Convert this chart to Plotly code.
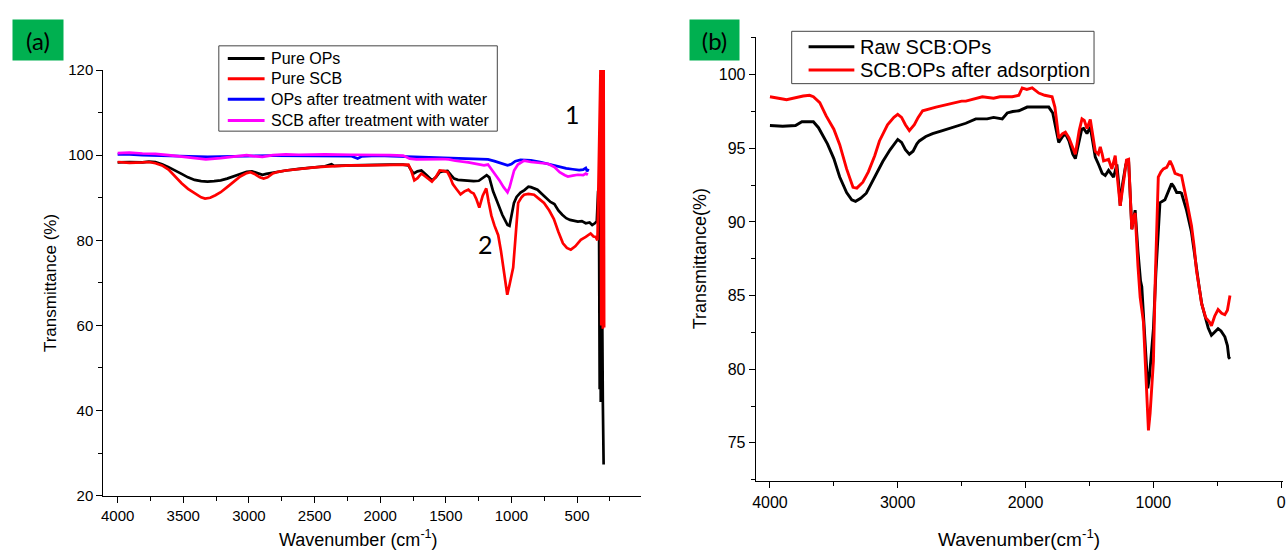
import plotly.graph_objects as go

W, H = 1286, 557

# ---------------- Panel (a) data ----------------
ops_wn = [4000, 3910, 3811, 3762, 3712, 3662, 3612, 3563, 3513, 3464, 3414, 3364, 3315, 3265, 3215, 3166,
          3116, 3066, 3017, 2977, 2937, 2897, 2868, 2818, 2719, 2619, 2520, 2421, 2371, 2351, 2222, 2123,
          2023, 1924, 1825, 1785, 1765, 1745, 1716, 1686, 1656, 1626, 1606, 1576, 1547, 1527, 1487, 1457,
          1437, 1408, 1378, 1328, 1288, 1249, 1219, 1189, 1169, 1140, 1110, 1090, 1070, 1050, 1030, 1015,
          1000, 981, 961, 931, 901, 871, 852, 832, 802, 772, 732, 703, 673, 643, 613, 583, 554, 524, 494,
          464, 434, 405, 385, 365, 350, 340, 334, 328, 324, 320, 316, 312, 308, 304, 298]
ops_t = [98.3, 98.4, 98.3, 98.5, 98.4, 97.9, 97.2, 96.5, 95.6, 94.8, 94.2, 93.9, 93.8, 93.9, 94.1, 94.5,
         95.0, 95.6, 96.1, 96.2, 95.8, 95.4, 95.6, 95.9, 96.4, 96.8, 97.1, 97.4, 97.9, 97.5, 97.6, 97.7,
         97.8, 97.8, 97.8, 97.6, 96.5, 95.7, 96.2, 96.4, 95.6, 94.6, 94.1, 94.8, 96.0, 96.2, 96.3, 95.2,
         94.5, 94.2, 94.1, 94.0, 93.9, 94.0, 94.6, 95.3, 94.8, 91.5, 89.2, 87.5, 86.0, 84.8, 83.6, 83.4,
         85.5, 88.8, 90.2, 91.2, 91.8, 92.6, 92.5, 92.2, 91.9, 91.0, 89.9, 89.0, 88.5, 87.0, 86.0, 85.2,
         84.8, 84.6, 84.4, 84.5, 84.0, 84.2, 83.6, 84.0, 84.5, 91.5, 92.0, 45.0, 88.0, 42.0, 80.0, 45.0,
         60.0, 42.0, 27.3]

scb_wn = [4000, 3910, 3811, 3762, 3712, 3662, 3612, 3563, 3513, 3464, 3414, 3364, 3334, 3295, 3255, 3215,
          3166, 3116, 3066, 3017, 2987, 2957, 2917, 2888, 2858, 2818, 2778, 2719, 2619, 2520, 2421, 2321,
          2222, 2123, 2023, 1924, 1825, 1785, 1765, 1740, 1716, 1686, 1656, 1626, 1606, 1576, 1547, 1517,
          1487, 1467, 1447, 1418, 1388, 1358, 1328, 1308, 1288, 1269, 1245, 1219, 1192, 1174, 1153, 1130,
          1101, 1080, 1063, 1045, 1032, 1015, 1000, 987, 971, 949, 921, 904, 871, 828, 792, 752, 712, 677,
          643, 608, 578, 548, 514, 472, 434, 397, 375, 359, 345, 322, 316, 310, 304, 298, 294]
scb_t = [98.4, 98.2, 98.3, 98.4, 98.1, 97.6, 96.6, 95.0, 93.4, 92.1, 91.0, 90.1, 89.8, 90.0, 90.6, 91.3,
         92.5, 93.8, 95.0, 95.8, 96.0, 95.6, 94.8, 94.5, 94.8, 95.7, 96.1, 96.4, 96.8, 97.1, 97.3, 97.5,
         97.6, 97.6, 97.7, 97.8, 97.9, 97.8, 96.5, 94.1, 94.6, 95.7, 95.0, 94.2, 93.8, 94.9, 96.4, 96.3,
         96.0, 94.8, 93.2, 92.0, 90.8, 91.5, 91.9, 91.3, 91.0, 89.8, 87.7, 90.5, 92.2, 89.0, 85.8, 83.5,
         81.2, 77.5, 73.6, 69.5, 67.2, 69.5, 72.0, 73.6, 80.0, 88.8, 90.2, 90.7, 90.9, 90.7, 89.8, 88.8,
         87.0, 85.0, 82.0, 79.3, 78.2, 77.8, 78.6, 80.1, 80.8, 81.6, 80.9, 80.8, 80.0, 120.0, 60.0, 120.0,
         59.2, 120.0, 59.5]

opsw_wn = [4000, 3910, 3811, 3712, 3612, 3513, 3414, 3315, 3215, 3116, 3017, 2818, 2619, 2421, 2222, 2172,
           2143, 2023, 1924, 1825, 1725, 1626, 1527, 1428, 1328, 1229, 1179, 1130, 1080, 1030, 1000, 971,
           931, 904, 852, 782, 732, 683, 633, 583, 534, 484, 454, 434, 424, 414]
opsw_t = [100.2, 100.2, 100.0, 99.9, 99.8, 99.7, 99.6, 99.6, 99.7, 99.8, 99.8, 99.9, 99.9, 99.9, 99.8, 99.2,
          99.7, 99.9, 99.8, 99.7, 99.6, 99.5, 99.4, 99.3, 99.2, 99.1, 99.0, 98.6, 98.1, 97.6, 97.9, 98.6,
          98.9, 98.9, 98.8, 98.4, 98.0, 97.6, 97.2, 96.9, 96.7, 96.5, 96.6, 97.0, 96.2, 96.8]

scbw_wn = [4000, 3910, 3811, 3712, 3612, 3513, 3414, 3328, 3215, 3116, 3017, 2967, 2897, 2818, 2719, 2619,
           2421, 2222, 2023, 1924, 1825, 1775, 1725, 1626, 1527, 1477, 1428, 1328, 1279, 1253, 1209, 1179,
           1149, 1130, 1090, 1060, 1040, 1030, 1015, 990, 980, 951, 904, 852, 792, 722, 673, 633, 593, 570,
           534, 494, 454, 434, 418]
scbw_t = [100.5, 100.6, 100.4, 100.3, 100.0, 99.6, 99.2, 99.0, 99.3, 99.6, 100.0, 99.8, 99.6, 100.0, 100.2,
          100.1, 100.2, 100.1, 100.1, 100.0, 99.9, 99.2, 99.0, 99.1, 99.1, 99.0, 98.7, 98.3, 98.0, 98.0,
          97.6, 97.8, 96.6, 95.7, 94.0, 92.5, 91.5, 91.3, 92.4, 95.3, 96.4, 97.8, 98.7, 98.4, 98.2, 98.0,
          97.2, 96.0, 95.3, 95.0, 95.2, 95.4, 95.3, 95.7, 95.4]

# ---------------- Panel (b) data ----------------
raw_wn = [4000, 3900, 3800, 3750, 3700, 3660, 3620, 3580, 3550, 3500, 3454, 3400, 3360, 3330, 3290, 3246,
          3200, 3150, 3117, 3060, 3020, 3000, 2970, 2940, 2909, 2880, 2850, 2831, 2780, 2727, 2650, 2550,
          2467, 2389, 2300, 2250, 2182, 2143, 2100, 2052, 1987, 1900, 1850, 1818, 1787, 1765, 1740, 1710,
          1688, 1660, 1630, 1610, 1580, 1560, 1545, 1519, 1493, 1475, 1454, 1428, 1400, 1376, 1350, 1311,
          1285, 1270, 1259, 1240, 1215, 1193, 1180, 1168, 1155, 1142, 1120, 1100, 1090, 1075, 1060, 1043,
          1030, 1015, 999, 980, 960, 948, 909, 880, 857, 840, 817, 790, 779, 740, 701, 680, 662, 640, 620,
          597, 570, 545, 520, 493, 470, 440, 420, 409, 400]
raw_t = [96.55, 96.5, 96.55, 96.8, 96.8, 96.8, 96.4, 95.8, 95.3, 94.3, 93.05, 92.0, 91.5, 91.4, 91.6, 91.95,
         92.7, 93.6, 94.1, 94.9, 95.4, 95.6, 95.4, 94.9, 94.6, 94.8, 95.3, 95.5, 95.8, 96.0, 96.2, 96.5,
         96.7, 97.0, 97.0, 97.1, 97.0, 97.4, 97.5, 97.55, 97.8, 97.8, 97.8, 97.8, 97.4, 96.5, 95.4, 95.8,
         96.0, 95.5, 94.6, 94.3, 95.6, 96.3, 96.35, 96.0, 96.45, 95.6, 94.4, 93.9, 93.3, 93.15, 93.5, 93.05,
         93.9, 92.5, 91.1, 92.6, 93.9, 94.1, 92.0, 89.5, 90.2, 90.8, 88.0, 86.0, 85.6, 83.5, 81.0, 78.7,
         79.5, 81.0, 82.75, 86.5, 90.0, 91.3, 91.5, 92.1, 92.6, 92.4, 92.0, 92.0, 91.95, 90.8, 89.3, 88.0,
         86.7, 85.5, 84.4, 83.6, 82.8, 82.3, 82.5, 82.75, 82.6, 82.2, 81.6, 80.8, 80.7]

ads_wn = [4000, 3950, 3900, 3870, 3800, 3740, 3690, 3660, 3610, 3560, 3500, 3454, 3400, 3350, 3320, 3273,
          3230, 3180, 3143, 3080, 3030, 3000, 2970, 2940, 2909, 2870, 2840, 2805, 2700, 2600, 2500, 2467,
          2400, 2338, 2250, 2200, 2104, 2052, 2026, 1990, 1948, 1896, 1850, 1792, 1770, 1740, 1710, 1688,
          1660, 1630, 1610, 1580, 1558, 1540, 1519, 1493, 1475, 1454, 1430, 1415, 1400, 1389, 1350, 1324,
          1298, 1280, 1259, 1230, 1210, 1193, 1180, 1168, 1155, 1142, 1120, 1103, 1077, 1060, 1048, 1038,
          1025, 1015, 999, 985, 972, 961, 940, 921, 895, 869, 850, 830, 800, 779, 740, 701, 680, 662, 640,
          623, 590, 560, 545, 520, 493, 465, 440, 420, 402, 400]
ads_t = [98.5, 98.45, 98.35, 98.3, 98.45, 98.55, 98.6, 98.5, 98.1, 97.2, 96.3, 95.25, 93.6, 92.35, 92.3, 92.7,
         93.4, 94.5, 95.5, 96.6, 97.1, 97.3, 97.1, 96.6, 96.2, 96.6, 97.1, 97.55, 97.8, 98.0, 98.2, 98.2,
         98.35, 98.5, 98.4, 98.5, 98.5, 98.6, 99.1, 99.0, 99.1, 98.75, 98.6, 98.5, 97.8, 95.7, 96.0, 96.1,
         95.7, 95.0, 94.6, 96.2, 97.0, 96.9, 96.35, 96.95, 96.0, 94.8, 94.6, 95.1, 94.6, 94.15, 94.25, 93.6,
         94.5, 93.0, 91.1, 92.9, 94.2, 94.25, 92.2, 89.5, 90.3, 90.6, 87.0, 84.9, 83.2, 80.0, 77.5, 75.85,
         77.0, 78.5, 80.55, 86.0, 90.5, 93.05, 93.4, 93.6, 93.7, 94.15, 93.8, 93.3, 93.2, 93.15, 91.5, 89.75,
         88.3, 86.7, 85.5, 84.5, 83.5, 83.2, 82.95, 83.6, 84.05, 83.8, 83.7, 84.0, 84.9, 85.0]

names_a = ["Pure OPs", "Pure SCB", "OPs after treatment with water", "SCB after treatment with water"]
names_b = ["Raw SCB:OPs", "SCB:OPs after adsorption"]
colors_a = ["#000000", "#FF0000", "#0000FF", "#FF00FF"]
colors_b = ["#000000", "#FF0000"]

FONT = "Arial, Liberation Sans, sans-serif"
LBL = "Lato, Carlito, Calibri, sans-serif"


def px_x(p):
    return p / W


def px_y(p):
    return 1 - p / H


# ---------------- Figure ----------------
fig = go.Figure()
series_a = [(ops_wn, ops_t), (scb_wn, scb_t), (opsw_wn, opsw_t), (scbw_wn, scbw_t)]
for (xv, yv), nm, c in zip(series_a, names_a, colors_a):
    fig.add_trace(go.Scatter(x=xv, y=yv, name=nm, mode="lines", showlegend=False,
                             line=dict(color=c, width=2.7), xaxis="x", yaxis="y"))

series_b = [(raw_wn, raw_t), (ads_wn, ads_t)]
for (xv, yv), nm, c in zip(series_b, names_b, colors_b):
    fig.add_trace(go.Scatter(x=xv, y=yv, name=nm, mode="lines", showlegend=False,
                             line=dict(color=c, width=2.9), xaxis="x2", yaxis="y2"))

axis_common = dict(showline=True, linecolor="black", linewidth=1.4, ticks="outside", ticklen=6,
                   tickwidth=1.2, tickcolor="black", showgrid=False, zeroline=False, mirror=False,
                   color="black", ticklabeloverflow="allow")

fig.update_layout(
    width=W, height=H, autosize=False,
    margin=dict(l=0, r=0, t=0, b=0, pad=0),
    paper_bgcolor="white", plot_bgcolor="white",
    font=dict(family=FONT, color="black"),
    showlegend=False,
    xaxis=dict(domain=[px_x(100), px_x(640)], range=[4108, 17], anchor="y",
               tickmode="linear", tick0=0, dtick=500, tickfont=dict(size=15, family=FONT),
               minor=dict(ticks="outside", ticklen=4, tickwidth=1.2, tickcolor="black", dtick=250, tick0=0),
               **axis_common),
    yaxis=dict(domain=[px_y(502), px_y(63)], range=[20, 120], anchor="x",
               tickmode="linear", tick0=0, dtick=20, tickfont=dict(size=15, family=FONT),
               minor=dict(ticks="outside", ticklen=4, tickwidth=1.2, tickcolor="black", dtick=10, tick0=0),
               **axis_common),
    xaxis2=dict(domain=[px_x(756), 1.0], range=[4110, -15], anchor="y2",
                tickmode="linear", tick0=0, dtick=1000, tickfont=dict(size=16, family=FONT),
                minor=dict(ticks="outside", ticklen=4, tickwidth=1.2, tickcolor="black", dtick=500, tick0=0),
                **axis_common),
    yaxis2=dict(domain=[px_y(487), px_y(29)], range=[72.4, 102.55], anchor="x2",
                tickmode="linear", tick0=0, dtick=5, tickfont=dict(size=16, family=FONT),
                minor=dict(ticks="outside", ticklen=4, tickwidth=1.2, tickcolor="black", dtick=2.5, tick0=0),
                **axis_common),
)

shapes = []
annotations = []

# legend boxes drawn as shapes with text entries
legend_specs = [
    # (box x0, y0, x1, y1, line x0, line x1, text x, row ys, font size, names, colors)
    (216, 38, 496, 126, 225, 262, 266, [51, 72, 93, 115], 16, names_a, colors_a),
    (792, 23, 1096, 77, 809, 855, 859, [39, 63], 20, names_b, colors_b),
]
for bx0, by0, bx1, by1, lx0, lx1, tx, rows, fs, nms, cols in legend_specs:
    shapes.append(dict(type="rect", xref="paper", yref="paper", x0=px_x(bx0), x1=px_x(bx1),
                       y0=px_y(by1), y1=px_y(by0), line=dict(color="#444444", width=1), fillcolor="white",
                       layer="above"))
    for ry, nm, c in zip(rows, nms, cols):
        shapes.append(dict(type="line", xref="paper", yref="paper", x0=px_x(lx0), x1=px_x(lx1),
                           y0=px_y(ry), y1=px_y(ry), line=dict(color=c, width=3), layer="above"))
        annotations.append(dict(text=nm, x=px_x(tx), y=px_y(ry), xref="paper", yref="paper",
                                xanchor="left", yanchor="middle", showarrow=False,
                                font=dict(size=fs, family=FONT, color="black")))

center = dict(xanchor="center", yanchor="middle", showarrow=False, xref="paper", yref="paper")
annotations += [
    # axis titles
    dict(text="Transmittance (%)", x=px_x(47), y=px_y(283), textangle=-90,
         font=dict(size=17, family=FONT), **center),
    dict(text="Wavenumber (cm<sup>-1</sup>)", x=px_x(356), y=px_y(546),
         font=dict(size=18, family=FONT), **center),
    dict(text="Transmittance(%)", x=px_x(700), y=px_y(258), textangle=-90,
         font=dict(size=18, family=FONT), **center),
    dict(text="Wavenumber(cm<sup>-1</sup>)", x=px_x(1021), y=px_y(546),
         font=dict(size=19, family=FONT), **center),
    # peak labels
    dict(text="1", x=px_x(572), y=px_y(108), font=dict(size=25, family=LBL), **center),
    dict(text="2", x=px_x(484), y=px_y(242), font=dict(size=25, family=LBL), **center),
    # panel labels
    dict(text="(a)", x=px_x(8), y=px_y(10), xref="paper", yref="paper", xanchor="left", yanchor="top",
         showarrow=False, bgcolor="#00B050", width=48, height=38, borderpad=1,
         font=dict(size=24, family=LBL, color="black")),
    dict(text="(b)", x=px_x(689), y=px_y(10), xref="paper", yref="paper", xanchor="left", yanchor="top",
         showarrow=False, bgcolor="#00B050", width=47, height=38, borderpad=1,
         font=dict(size=24, family=LBL, color="black")),
]
fig.update_layout(shapes=shapes, annotations=annotations)

fig.write_html("out.html")
